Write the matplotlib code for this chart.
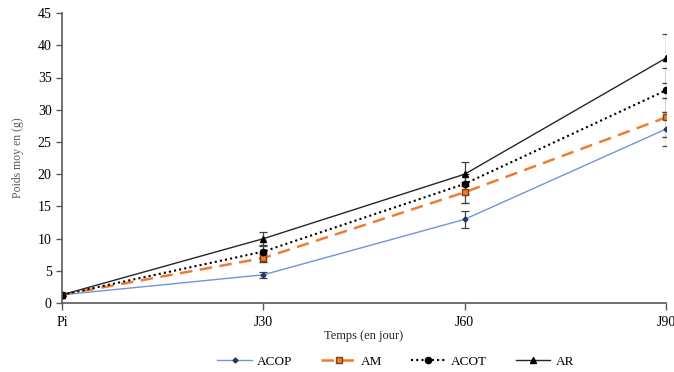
import matplotlib.pyplot as plt
from matplotlib.lines import Line2D

plt.rcParams['font.family'] = ['Liberation Serif', 'DejaVu Serif']

# ==========================================
# DATA
# ==========================================
days = ["Pi", "J30", "J60", "J90"]

acop = [1.3, 4.4, 13.0, 27.0]
am = [1.3, 7.0, 17.2, 28.8]
acot = [1.3, 8.0, 18.5, 33.0]
ar = [1.3, 10.0, 20.0, 38.0]

acop_err = [0.2, 0.5, 1.3, 2.6]
am_err = [0.2, 0.6, 1.6, 3.0]
acot_err = [0.2, 0.8, 1.6, 3.4]
ar_err = [0.2, 1.0, 1.9, 3.8]

y_ticks = [0, 5, 10, 15, 20, 25, 30, 35, 40, 45]

# ==========================================
# PLOT
# ==========================================
fig = plt.figure(figsize=(6.74, 3.72), dpi=100)
ax = fig.add_axes([0.092, 0.185, 0.896, 0.78])

x = list(range(len(days)))
axis_col = "#595959"
err_kw = dict(ecolor="#404040", elinewidth=0.9, capsize=3, capthick=0.9)

series = [
    ("ACOP", acop, acop_err, dict(color="#6f96d8", ls="-", lw=1.0, marker="D", ms=2.5,
                                  mfc="#1f3864", mec="#1f3864")),
    ("AM", am, am_err, dict(color="#ed7d31", ls=(0, (5, 3)), lw=1.8, marker="s", ms=4.5,
                            mfc="#ed7d31", mec="#7f3f10", mew=1.0)),
    ("ACOT", acot, acot_err, dict(color="black", ls=(0, (1, 1.5)), lw=1.5, marker="o", ms=4.5,
                                  mfc="black", mec="black")),
    ("AR", ar, ar_err, dict(color="#262626", ls="-", lw=1.0, marker="^", ms=4.5,
                            mfc="black", mec="black")),
]

handles = []
for name, vals, err, st in series:
    ax.errorbar(x, vals, yerr=err, label=name, **st, **err_kw)
    handles.append(Line2D([], [], **st))

ax.set_xlim(0, 3)
ax.set_ylim(0, 45)
ax.set_xticks(x)
ax.set_xticklabels(days, fontsize=10)
ax.set_yticks(y_ticks)
ax.tick_params(axis="y", labelsize=10, direction="out", length=4, color=axis_col, width=1)
ax.tick_params(axis="x", direction="out", length=5, color=axis_col, width=1, pad=4)

for s in ["top", "right"]:
    ax.spines[s].set_visible(False)
for s in ["left", "bottom"]:
    ax.spines[s].set_color(axis_col)
    ax.spines[s].set_linewidth(1.2)

ax.set_xlabel("Temps (en jour)", fontsize=9, color="#262626", labelpad=1)
ax.set_ylabel("Poids moy en (g)", fontsize=8.5, color="#595959", labelpad=10)

fig.legend(handles=handles, labels=[s[0] for s in series], loc="center",
           bbox_to_anchor=(0.587, 0.027), ncol=4, frameon=False, fontsize=9.5,
           handlelength=2.6, columnspacing=2.2, handletextpad=0.4)

fig.savefig("out.png", dpi=100)
